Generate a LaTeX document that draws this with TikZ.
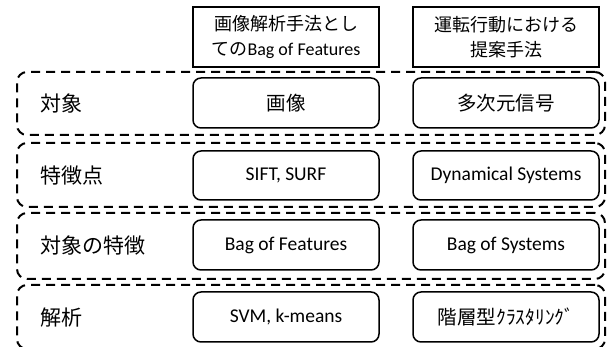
\documentclass[tikz,border=0pt]{standalone}
\usepackage{fontspec}
\setmainfont{Carlito}
\newfontfamily\jpfont{Noto Sans CJK JP}

\tikzset{
  headbox/.style={draw, line width=1.6pt, minimum width=186pt, minimum height=60pt,
    inner sep=0pt, align=center, font=\fontsize{18}{25}\selectfont},
  cellbox/.style={draw, rounded corners=8pt, line width=1.5pt, minimum width=186pt,
    minimum height=50pt, inner sep=0pt, font=\fontsize{19.5}{22}\selectfont},
  groupbox/.style={draw, dash pattern=on 9pt off 6pt, line width=2pt,
    rounded corners=10pt, minimum width=588pt, inner sep=0pt},
  rowlabel/.style={anchor=west, inner sep=0pt, font=\jpfont\fontsize{21}{24}\selectfont}
}

\begin{document}
\begin{tikzpicture}[x=1pt,y=-1pt]
\useasboundingbox (0,0) rectangle (608,347);

\node[headbox] (headbof) at (286,37) {{\jpfont 画像解析手法とし}\\{\jpfont ての}Bag of Features};
\node[headbox] (headbos) at (506,37) {{\jpfont 運転行動における}\\{\jpfont 提案手法}};

\node[groupbox, minimum height=63pt] (grpobj) at (311,103.5) {};
\node[groupbox, minimum height=64pt] (grppts) at (311,175) {};
\node[groupbox, minimum height=66pt] (grpfeat) at (311,246) {};
\node[groupbox, minimum height=64pt] (grpana) at (311,317) {};

\node[rowlabel] (lblobj) at (40,104) {対象};
\node[rowlabel] (lblpts) at (40,176) {特徴点};
\node[rowlabel] (lblfeat) at (40,246) {対象の特徴};
\node[rowlabel] (lblana) at (40,318) {解析};

\node[cellbox] (bofobj) at (286,103) {\jpfont 画像};
\node[cellbox] (bosobj) at (506,103) {\jpfont 多次元信号};
\node[cellbox, minimum height=49pt] (bofpts) at (286,175.5) {SIFT, SURF};
\node[cellbox, minimum height=49pt] (bospts) at (506,175.5) {Dynamical Systems};
\node[cellbox] (boffeat) at (286,245) {Bag of Features};
\node[cellbox] (bosfeat) at (506,245) {Bag of Systems};
\node[cellbox] (bofana) at (286,317) {SVM, k-means};
\node[cellbox] (bosana) at (506,317) {\jpfont 階層型ｸﾗｽﾀﾘﾝｸﾞ};
\end{tikzpicture}
\end{document}
